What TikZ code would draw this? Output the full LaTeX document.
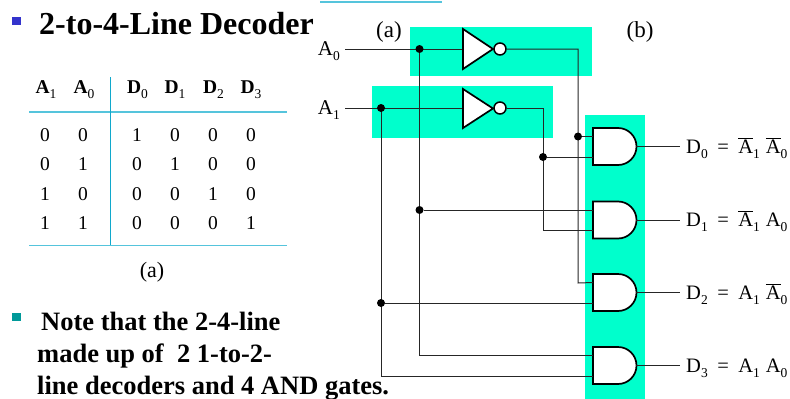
\documentclass[tikz,border=0pt]{standalone}
\usepackage{fontspec}
\setmainfont{Liberation Serif}
\definecolor{band}{HTML}{00FFCC}
\definecolor{rule}{HTML}{55C4DC}
\definecolor{vrule}{HTML}{10A8CC}
\definecolor{bulleta}{HTML}{3333CC}
\definecolor{bulletb}{HTML}{009999}
\newcommand{\bara}{$\overline{\mbox{A}}$}
\newcommand{\lowsub}[1]{\raisebox{-0.28em}{\mdseries\fontsize{13.5}{14}\selectfont #1}}
\newcommand{\eqgap}{\hspace{9.5pt}=\hspace{9.5pt}}
\tikzset{
  wire/.style={draw=black!85,line width=1pt},
  gate/.style={draw=black,line width=1.7pt,fill=white,line join=miter},
  dotn/.style={circle,fill=black,inner sep=0pt,minimum size=8pt},
  bubble/.style={circle,draw=black,line width=1.5pt,fill=white,inner sep=0pt,minimum size=12pt},
  lab/.style={anchor=base west,inner sep=0pt,font=\fontsize{20.5}{22}\selectfont},
  cell/.style={anchor=base,inner sep=0pt,font=\fontsize{19.5}{21}\selectfont},
  hcell/.style={anchor=base,inner sep=0pt,font=\bfseries\fontsize{19.5}{21}\selectfont},
  bold/.style={anchor=base west,inner sep=0pt,font=\bfseries\fontsize{26.5}{28}\selectfont}
}
\newcommand{\andgate}[2]{% name, top y
  \coordinate (#1nw) at (593,#2);
  \coordinate (#1a) at (593,#2+8.5);
  \coordinate (#1b) at (593,#2+29);
  \coordinate (#1o) at (636,#2+18.5);
  \draw[gate] (593,#2) -- (618,#2) .. controls (628.2,#2) and (636.5,#2+8.3) .. (636.5,#2+18.5) .. controls (636.5,#2+28.7) and (628.2,#2+37) .. (618,#2+37) -- (593,#2+37) -- cycle;
}
\begin{document}
\begin{tikzpicture}[x=1pt,y=-1pt]
\useasboundingbox (0,0) rectangle (790,399);
% bands
\fill[band] (410,27) rectangle (592,76);
\fill[band] (372,86) rectangle (553,138);
\fill[band] (585,115) rectangle (645,399);
\draw[rule,line width=1.4pt] (320,2) -- (442,2);
% title
\fill[bulleta] (12,17) rectangle (21,25);
\node[anchor=base west,inner sep=0pt,font=\bfseries\fontsize{32}{34}\selectfont] (title) at (39,34) {2-to-4-Line Decoder};
% table
\draw[rule,line width=1.2pt] (29,112) -- (287,112);
\draw[rule,line width=1pt] (29,245) -- (287,245);
\draw[vrule,line width=1pt] (110,77) -- (110,245);
\node[hcell] (h1) at (46,93) {A\lowsub{1}};
\node[hcell] (h2) at (84,93) {A\lowsub{0}};
\node[hcell] (h3) at (137.5,93) {D\lowsub{0}};
\node[hcell] (h4) at (175,93) {D\lowsub{1}};
\node[hcell] (h5) at (213.5,93) {D\lowsub{2}};
\node[hcell] (h6) at (251,93) {D\lowsub{3}};
\foreach \y/\a/\b/\c/\d/\e/\f [count=\r] in {141.5/0/0/1/0/0/0,170.5/0/1/0/1/0/0,200/1/0/0/0/1/0,229.5/1/1/0/0/0/1}{
  \node[cell] (t\r a) at (45,\y) {\a};
  \node[cell] (t\r b) at (83,\y) {\b};
  \node[cell] (t\r c) at (137,\y) {\c};
  \node[cell] (t\r d) at (175,\y) {\d};
  \node[cell] (t\r e) at (213,\y) {\e};
  \node[cell] (t\r f) at (251,\y) {\f};
}
\node[cell,font=\fontsize{22}{24}\selectfont] (capa) at (152,277.5) {(a)};
% note
\fill[bulletb] (12,313) rectangle (21,321);
\node[bold] (n1) at (41,330) {Note that the 2-4-line};
\node[bold] (n2) at (37,362) {made up of\ \ 2 1-to-2-};
\node[bold] (n3) at (37,394) {line decoders and 4 AND gates.};
% labels
\node[cell,font=\fontsize{23}{25}\selectfont] (la) at (389,37) {(a)};
\node[cell,font=\fontsize{23}{25}\selectfont] (lb) at (640,37) {(b)};
\node[anchor=base east,inner sep=0pt,font=\fontsize{21}{23}\selectfont] (A0) at (340,55) {A\lowsub{0}};
\node[anchor=base east,inner sep=0pt,font=\fontsize{21}{23}\selectfont] (A1) at (340,114) {A\lowsub{1}};
% coordinates
\coordinate (a0s) at (345,49);
\coordinate (a1s) at (345,108);
\coordinate (i0) at (463,49);
\coordinate (i1) at (463,108);
\node[bubble] (b0) at (500,49) {};
\node[bubble] (b1) at (500,108) {};
% gates
\andgate{g0}{128}
\andgate{g1}{201.5}
\andgate{g2}{274}
\andgate{g3}{347}
% wires
\draw[wire] (a0s) -- (i0);
\draw[wire] (a1s) -- (i1);
\draw[wire] (b0.east) -| (578,283) -- (g2a);
\draw[wire] (b1.east) -| (543,230.5) -- (g1b);
\draw[wire] (419.5,49) |- (g3a);
\draw[wire] (381,108) |- (g3b);
\node[dotn] (d1) at (419.5,49) {};
\node[dotn] (d2) at (381,108) {};
\node[dotn] (d3) at (578,136.5) {};
\node[dotn] (d4) at (543,157) {};
\node[dotn] (d5) at (419.5,210) {};
\node[dotn] (d6) at (381,303) {};
\draw[wire] (d3) -- (g0a);
\draw[wire] (d4) -- (g0b);
\draw[wire] (d5) -- (g1a);
\draw[wire] (d6) -- (g2b);
% inverters
\draw[gate] (463,29) -- (493,49) -- (463,69) -- cycle;
\draw[gate] (463,89) -- (493,108.5) -- (463,128) -- cycle;
% outputs
\coordinate (o0) at (680,146.5);
\coordinate (o1) at (680,220);
\coordinate (o2) at (680,292.5);
\coordinate (o3) at (680,365.5);
\draw[wire] (g0o) -- (o0);
\draw[wire] (g1o) -- (o1);
\draw[wire] (g2o) -- (o2);
\draw[wire] (g3o) -- (o3);
\node[lab] (D0) at (686,153) {D\lowsub{0}\eqgap\bara\lowsub{1}\hspace{6pt}\bara\lowsub{0}};
\node[lab] (D1) at (686,226) {D\lowsub{1}\eqgap\bara\lowsub{1}\hspace{6pt}A\lowsub{0}};
\node[lab] (D2) at (686,299) {D\lowsub{2}\eqgap A\lowsub{1}\hspace{6pt}\bara\lowsub{0}};
\node[lab] (D3) at (686,372) {D\lowsub{3}\eqgap A\lowsub{1}\hspace{6pt}A\lowsub{0}};
\end{tikzpicture}
\end{document}
